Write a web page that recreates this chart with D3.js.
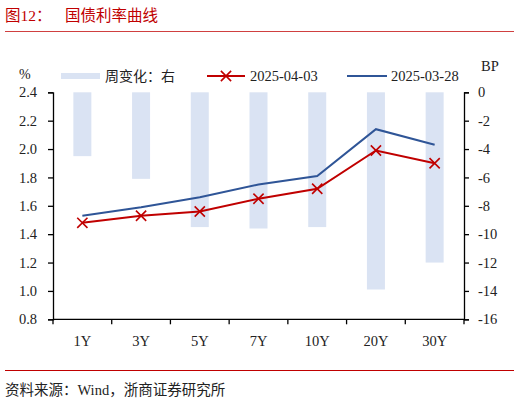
<!DOCTYPE html>
<html><head><meta charset="utf-8">
<script src="https://cdn.jsdelivr.net/npm/d3@7"></script>
<style>
body{margin:0;background:#fff;}
svg{display:block;}
text{font-family:"Liberation Serif","Noto Sans CJK SC",serif;}
</style></head>
<body><svg id="c" width="520" height="402"></svg>
<script>
const categories = ["1Y","3Y","5Y","7Y","10Y","20Y","30Y"];
const weekChange = [-4.5,-6.1,-9.5,-9.6,-9.5,-13.9,-12.0];
const yield0403 = [1.48,1.53,1.56,1.65,1.72,1.99,1.90];
const yield0328 = [1.53,1.59,1.66,1.75,1.81,2.14,2.03];
const leftTicks = [0.8,1.0,1.2,1.4,1.6,1.8,2.0,2.2,2.4];
const rightTicks = [0,-2,-4,-6,-8,-10,-12,-14,-16];

const svg = d3.select("#c");
const L=53, R=464, T=92.3, B=319.3;
const red="#C00000", blue="#2F5597", barC="#DAE3F3";

// title
svg.append("text").attr("x",5).attr("y",21).attr("fill",red).attr("font-size",15.5)
  .text("图12：");
svg.append("text").attr("x",65).attr("y",21).attr("fill",red).attr("font-size",15.5)
  .attr("font-family","Noto Sans CJK SC").text("国债利率曲线");
svg.append("line").attr("x1",5).attr("x2",514).attr("y1",31.5).attr("y2",31.5).attr("stroke","#D04040").attr("stroke-width",1);
svg.append("line").attr("x1",5).attr("x2",514).attr("y1",370.5).attr("y2",370.5).attr("stroke","#C00000").attr("stroke-width",1);
svg.append("text").attr("x",5).attr("y",395).attr("fill","#222").attr("font-size",14.5)
  .text("资料来源：Wind，浙商证券研究所");

const x = d3.scaleBand().domain(categories).range([L,R]).padding(0);
const yL = d3.scaleLinear().domain([0.8,2.4]).range([B,T]);
const yR = d3.scaleLinear().domain([-16,0]).range([B,T]);

// bars
svg.append("g").selectAll("rect").data(categories).join("rect")
  .attr("x",d=>x(d)+x.bandwidth()/2-9).attr("width",18)
  .attr("y",yR(0)).attr("height",(d,i)=>yR(weekChange[i])-yR(0))
  .attr("fill",barC);

// lines
const line = d3.line().x((d,i)=>x(categories[i])+x.bandwidth()/2);
svg.append("path").datum(yield0328).attr("d",line.y(d=>yL(d))).attr("fill","none").attr("stroke",blue).attr("stroke-width",2);
svg.append("path").datum(yield0403).attr("d",line.y(d=>yL(d))).attr("fill","none").attr("stroke",red).attr("stroke-width",2);
const cross = d3.symbol().type(d3.symbolX).size(70);
svg.append("g").selectAll("path").data(yield0403).join("path")
  .attr("transform",(d,i)=>`translate(${x(categories[i])+x.bandwidth()/2},${yL(d)})`)
  .attr("d",cross).attr("fill","none").attr("stroke",red).attr("stroke-width",1.6);

// axes
const fs = 14.5;
const gL = svg.append("g").attr("transform",`translate(${L},0)`)
  .call(d3.axisLeft(yL).tickValues(leftTicks).tickFormat(d3.format(".1f")).tickSizeOuter(0).tickSize(5).tickPadding(11));
const gR = svg.append("g").attr("transform",`translate(${R},0)`)
  .call(d3.axisRight(yR).tickValues(rightTicks).tickFormat(d=>d===0?"0":"-"+Math.abs(d)).tickSizeOuter(0).tickSize(5).tickPadding(9));
const xTickPos = d3.range(categories.length+1).map(i=>L+i*x.bandwidth());
const gB = svg.append("g").attr("transform",`translate(0,${B})`);
gB.append("line").attr("x1",L).attr("x2",R).attr("stroke","#000").attr("stroke-width",1.3);
gB.selectAll("line.t").data(xTickPos).join("line").attr("class","t")
  .attr("x1",d=>d).attr("x2",d=>d).attr("y1",0).attr("y2",5).attr("stroke","#000").attr("stroke-width",1.3);
gB.selectAll("text").data(categories).join("text")
  .attr("x",d=>x(d)+x.bandwidth()/2).attr("y",27).attr("text-anchor","middle").attr("font-size",fs).attr("fill","#222").text(d=>d);
[gL,gR].forEach(g=>{
  g.select(".domain").attr("stroke","#000").attr("stroke-width",1.3);
  g.selectAll(".tick line").attr("stroke","#000").attr("stroke-width",1.3);
  g.selectAll(".tick text").attr("font-size",fs).attr("fill","#222").attr("font-family","Liberation Serif");
});

// units
svg.append("text").attr("x",19).attr("y",79).attr("font-size",14).attr("fill","#222").text("%");
svg.append("text").attr("x",481).attr("y",71).attr("font-size",14.5).attr("fill","#222").text("BP");

// legend
const lg = svg.append("g");
lg.append("rect").attr("x",61).attr("y",73).attr("width",39).attr("height",6).attr("fill",barC);
lg.append("text").attr("x",105).attr("y",81).attr("font-size",14).attr("fill","#222").attr("font-family","Noto Sans CJK SC").text("周变化：右");
lg.append("line").attr("x1",207).attr("x2",245).attr("y1",76).attr("y2",76).attr("stroke",red).attr("stroke-width",2);
lg.append("path").attr("transform","translate(226,76)").attr("d",cross).attr("fill","none").attr("stroke",red).attr("stroke-width",1.6);
lg.append("text").attr("x",250).attr("y",81).attr("font-size",fs).attr("fill","#222").text("2025-04-03");
lg.append("line").attr("x1",347).attr("x2",387).attr("y1",76).attr("y2",76).attr("stroke",blue).attr("stroke-width",2);
lg.append("text").attr("x",391).attr("y",81).attr("font-size",fs).attr("fill","#222").text("2025-03-28");
</script></body></html>
